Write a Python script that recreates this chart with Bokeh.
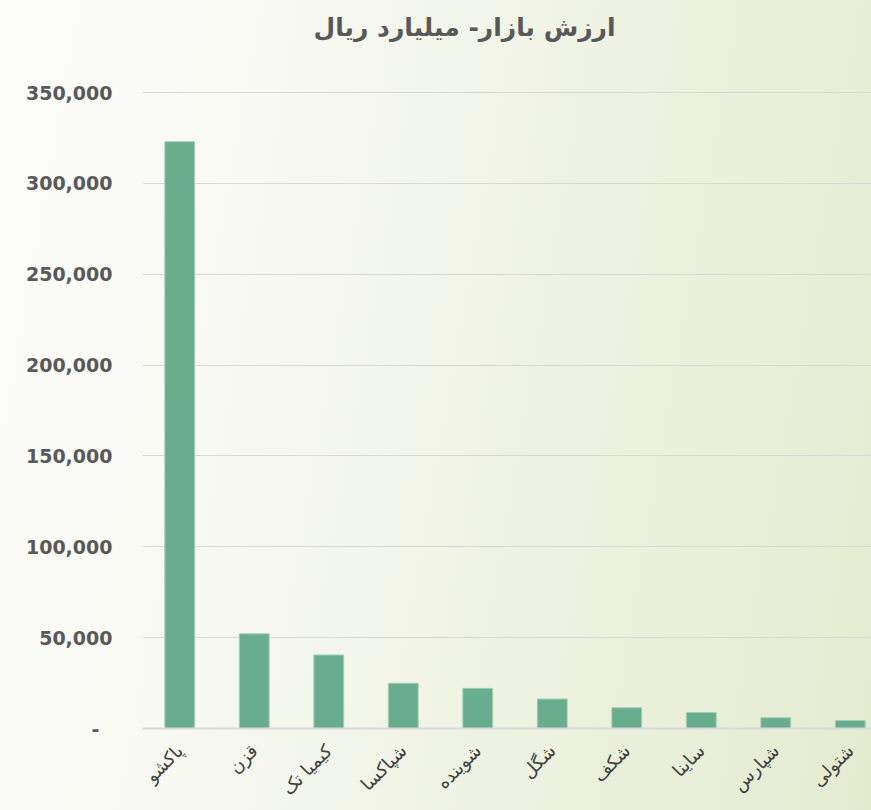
from bokeh.plotting import figure
from bokeh.models import Range1d, FixedTicker, ColumnDataSource, Label
from bokeh.embed import file_html
from bokeh.resources import INLINE
from math import pi

title_text = "ارزش بازار- میلیارد ریال"
categories = ["پاکشو", "قزن", "کیمیا تک", "شپاکسا", "شوینده", "شگل", "شکف", "ساینا", "شپارس", "شتولی"]
values = [322900, 52100, 40450, 24900, 22100, 16200, 11400, 8800, 5900, 4400]
y_ticks = [0, 50000, 100000, 150000, 200000, 250000, 300000, 350000]
y_tick_labels = ["-\u00a0\u00a0", "50,000", "100,000", "150,000", "200,000", "250,000", "300,000", "350,000"]

xs = list(range(len(categories)))
src = ColumnDataSource(dict(x=xs, top=values, cat=categories))

# frame spans the full top so the title can sit inside it; 350,000 lands at y=92px
y_top = 350000 * 728 / 636

p = figure(width=871, height=810, output_backend="svg", toolbar_location=None,
           x_range=Range1d(-0.5, 9.285), y_range=Range1d(0, y_top),
           min_border_left=142, min_border_right=0, min_border_top=0, min_border_bottom=82)

p.styles = {"background": "linear-gradient(100deg, #fdfdfb 0%, #f6f8f0 35%, #eef2e0 65%, #e3ebcf 100%)"}
p.background_fill_alpha = 0
p.border_fill_alpha = 0
p.outline_line_color = None

p.vbar(x="x", top="top", width=0.4, source=src, fill_color="#69ad8f", line_color="#a3cdb8", line_width=1)

p.xaxis.ticker = FixedTicker(ticks=xs)
p.xaxis.major_label_overrides = {i: c for i, c in zip(xs, categories)}
p.xaxis.major_label_orientation = pi / 4
p.xaxis.major_label_text_font = "DejaVu Sans"
p.xaxis.major_label_text_font_size = "18px"
p.xaxis.major_label_text_color = "#404040"
p.xaxis.major_tick_line_color = None
p.xaxis.major_tick_out = 0
p.xaxis.minor_tick_line_color = None
p.xaxis.axis_line_color = "#d9d9d9"
p.xaxis.axis_line_width = 2
p.xaxis.major_label_standoff = 19

p.yaxis.ticker = FixedTicker(ticks=y_ticks)
p.yaxis.major_label_overrides = {t: l for t, l in zip(y_ticks, y_tick_labels)}
p.yaxis.major_label_text_font = "DejaVu Sans"
p.yaxis.major_label_text_font_style = "bold"
p.yaxis.major_label_text_font_size = "19px"
p.yaxis.major_label_text_color = "#595959"
p.yaxis.axis_line_color = None
p.yaxis.major_tick_line_color = None
p.yaxis.major_tick_out = 0
p.yaxis.minor_tick_line_color = None
p.yaxis.major_label_standoff = 30

p.xgrid.grid_line_color = None
p.ygrid.grid_line_color = "#d9d9d9"
p.ygrid.grid_line_width = 1

p.add_layout(Label(x=322, y=701, x_units="screen", y_units="screen", text=title_text,
                   text_align="center", text_baseline="middle", text_font="DejaVu Sans",
                   text_font_style="bold", text_font_size="25px", text_color="#595959"))

open("out.html", "w").write(file_html(p, INLINE))
